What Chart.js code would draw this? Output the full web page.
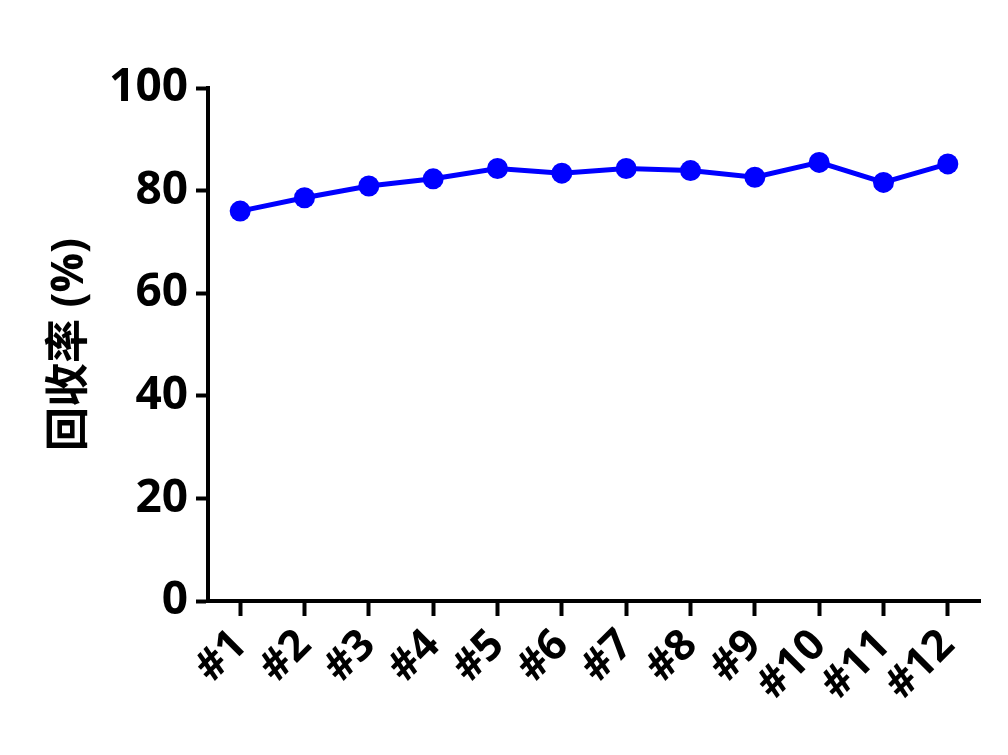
<!DOCTYPE html>
<html>
<head>
<meta charset="utf-8">
<script src="https://cdn.jsdelivr.net/npm/chart.js@4"></script>
<style>
  body { margin: 0; background: #fff; }
  canvas { display: block; }
</style>
</head>
<body>
<canvas id="chartRecovery" width="1008" height="755"></canvas>
<script>
const samples = ['#1', '#2', '#3', '#4', '#5', '#6', '#7', '#8', '#9', '#10', '#11', '#12'];
const recovery = [76.0, 78.6, 80.9, 82.3, 84.3, 83.4, 84.3, 83.9, 82.6, 85.5, 81.6, 85.2];
const yTicks = [0, 20, 40, 60, 80, 100];

const fontFamily = '"Open Sans", "Noto Sans CJK SC", sans-serif';

const ctx = document.getElementById('chartRecovery').getContext('2d');
const chartRecovery = new Chart(ctx, {
    type: 'line',
    data: {
        labels: samples,
        datasets: [{
            label: '回收率',
            data: recovery,
            borderColor: '#0000ff',
            backgroundColor: '#0000ff',
            borderWidth: 5,
            pointRadius: 10.5,
            pointHoverRadius: 10.5,
            pointBorderWidth: 0,
            tension: 0
        }]
    },
    options: {
        responsive: false,
        animation: false,
        layout: {
            padding: { top: 88, right: 28, left: 44, bottom: 0 }
        },
        plugins: {
            legend: { display: false },
            tooltip: { enabled: false }
        },
        scales: {
            x: {
                offset: true,
                grid: {
                    offset: false,
                    display: true,
                    drawOnChartArea: false,
                    drawTicks: true,
                    tickLength: 15,
                    tickWidth: 4,
                    tickColor: '#000'
                },
                border: { display: true, color: '#000', width: 4 },
                ticks: {
                    color: '#000',
                    font: { family: fontFamily, size: 43, weight: 'bold' },
                    minRotation: 45,
                    maxRotation: 45,
                    padding: 4,
                    autoSkip: false
                },
                afterFit: function (axis) { axis.height = 154; }
            },
            y: {
                min: 0,
                max: 100,
                afterBuildTicks: function (axis) {
                    axis.ticks = yTicks.map(v => ({ value: v }));
                },
                grid: {
                    display: true,
                    drawOnChartArea: false,
                    drawTicks: true,
                    tickLength: 12,
                    tickWidth: 4,
                    tickColor: '#000'
                },
                border: { display: true, color: '#000', width: 4 },
                ticks: {
                    color: '#000',
                    font: { family: fontFamily, size: 46, weight: 'bold' },
                    padding: 8
                },
                title: {
                    display: true,
                    text: '回收率 (%)',
                    color: '#000',
                    font: { family: fontFamily, size: 44, weight: 'bold' },
                    padding: { top: 0, bottom: 10 }
                },
                afterFit: function (axis) { axis.width = 164; }
            }
        }
    }
});
</script>
</body>
</html>
